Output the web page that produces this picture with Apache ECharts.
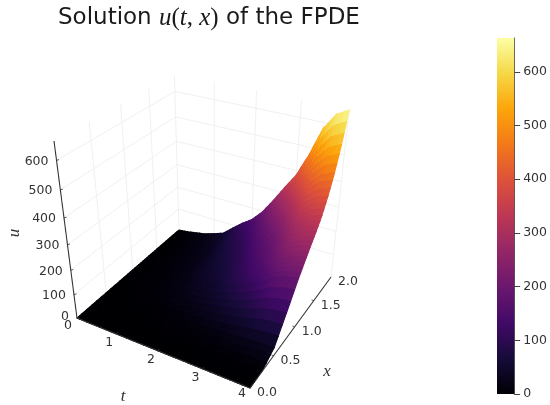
<!DOCTYPE html>
<html><head><meta charset="utf-8">
<script src="https://cdn.jsdelivr.net/npm/echarts@6/dist/echarts.min.js"></script>
<style>html,body{margin:0;padding:0;background:#fff}#c{width:550px;height:405px}</style>
</head><body><div id="c"></div>
<script>
const tValues = [0,0.25,0.5,0.75,1,1.25,1.5,1.75,2,2.25,2.5,2.75,3,3.25,3.5,3.75,4];
const xValues = [0,0.25,0.5,0.75,1,1.125,1.25,1.375,1.5,1.625,1.75,1.875,2];
const uAt0    = [0,0,0,0,0,0,0,0,0,0,0,0,0,0,0,0,0];
const uAt025  = [0,0,0,0,0,0,0,1,1,1,1,1,2,2,3,3,3];
const uAt050  = [0,0,1,1,2,2,4,6,8,10,13,16,19,24,29,32,33];
const uAt075  = [0,1,2,3,6,9,15,21,26,34,44,56,66,82,100,111,115];
const uAt100  = [0,1,4,6,10,15,26,36,45,59,77,97,116,142,174,193,200];
const uAt1125 = [0,1,4,7,12,18,31,43,54,70,92,115,138,169,207,229,238];
const uAt125  = [0,2,5,8,14,20,35,50,63,81,106,133,159,196,240,265,275];
const uAt1375 = [0,2,6,9,16,23,40,56,71,92,120,150,180,221,270,299,310];
const uAt150  = [0,2,6,11,18,26,45,64,80,103,135,170,202,249,305,337,350];
const uAt1625 = [0,2,7,12,21,30,52,73,92,119,156,195,233,287,351,388,403];
const uAt175  = [0,3,9,14,24,35,61,85,107,139,182,228,272,335,409,453,470];
const uAt1875 = [0,3,10,17,29,41,71,101,126,164,214,269,321,395,483,534,554];
const uAt200  = [0,4,12,20,34,49,85,120,150,195,255,320,382,470,575,636,660];
const uRows = [uAt0,uAt025,uAt050,uAt075,uAt100,uAt1125,uAt125,uAt1375,uAt150,uAt1625,uAt175,uAt1875,uAt200];
const tTicks = [0,1,2,3,4];
const xTicks = [0,0.5,1,1.5,2];
const uTicks = [0,100,200,300,400,500,600];
const colorbarTicks = [0,100,200,300,400,500,600];
const uMax = 663;
const inferno = ['#000004','#160b39','#420a68','#6a176e','#932667','#bc3754','#dd513a','#f37819','#fca50a','#f6d746','#fcffa4'];

const TXT='#333333', SANS='"DejaVu Sans"';
function project(t,x,u){
  const a=t/4,b=x/2,c=u/uMax;
  const d=1-0.1213*a+0.2028*b-0.145*c;
  return [(77+142.7*a+138.3*b-30.83*c)/d,(318+22.94*a-41.36*b-197.4*c)/d];
}
const rgb=inferno.map(h=>[1,3,5].map(i=>parseInt(h.substr(i,2),16)));
function colorOf(u){
  const v=Math.max(0,Math.min(1,u/uMax))*10,i=Math.min(9,Math.floor(v)),f=v-i;
  const m=[0,1,2].map(k=>Math.round(rgb[i][k]+(rgb[i+1][k]-rgb[i][k])*f));
  return 'rgb('+m.join(',')+')';
}
function line(p,q,stroke,w){return {type:'line',silent:true,shape:{x1:p[0],y1:p[1],x2:q[0],y2:q[1]},style:{stroke,lineWidth:w}};}
function text(p,s,opt){return Object.assign({type:'text',silent:true,x:p[0],y:p[1],rotation:(opt&&opt.rot)||0,
  style:{x:0,y:0,text:s,fill:TXT,font:(opt&&opt.font)||('12.5px '+SANS),align:(opt&&opt.align)||'center',verticalAlign:'middle'}});}
function plus(p,dx,dy){return [p[0]+dx,p[1]+dy];}

function renderWalls(){
  const ch=[],G='#eeeeee',w=0.9,T=4,X=2;
  uTicks.slice(1).forEach(u=>{
    ch.push(line(project(0,0,u),project(0,X,u),G,w));
    ch.push(line(project(0,X,u),project(T,X,u),G,w));
  });
  xTicks.slice(1).forEach(x=>ch.push(line(project(0,x,0),project(0,x,uMax),G,w)));
  tTicks.slice(1).forEach(t=>ch.push(line(project(t,X,0),project(t,X,uMax),G,w)));
  return {type:'group',children:ch};
}
function renderSurface(){
  const ch=[],n=3;
  for(let j=xValues.length-2;j>=0;j--){
    for(let i=0;i<tValues.length-1;i++){
      const u00=uRows[j][i],u10=uRows[j][i+1],u01=uRows[j+1][i],u11=uRows[j+1][i+1];
      const t0=tValues[i],t1=tValues[i+1],x0=xValues[j],x1=xValues[j+1];
      const V=(p,q)=>(1-p)*(1-q)*u00+p*(1-q)*u10+(1-p)*q*u01+p*q*u11;
      const S=(p,q)=>project(t0+(t1-t0)*p,x0+(x1-x0)*q,V(p,q));
      for(let qi=n-1;qi>=0;qi--)for(let pi=0;pi<n;pi++){
        const p=pi/n,q=qi/n,e=1/n,c=colorOf(V(p+e/2,q+e/2));
        ch.push({type:'polygon',silent:true,shape:{points:[S(p,q),S(p+e,q),S(p+e,q+e),S(p,q+e)]},
          style:{fill:c,stroke:c,lineWidth:1.1}});
      }
    }
  }
  return {type:'group',children:ch};
}
function renderAxes(){
  const ch=[],A='#333333',w=1.1;
  ch.push(line(project(0,0,0),project(0,0,uMax),A,w));
  ch.push(line(project(0,0,0),project(4,0,0),A,w));
  ch.push(line(project(4,0,0),project(4,2,0),A,w));
  uTicks.forEach(u=>{const p=project(0,0,u);ch.push(line(p,plus(p,2.5,-0.8),A,0.8));
    if(u>0)ch.push(text(plus(p,-8,1),String(u),{align:'right'}));else ch.push(text([69,317],'0',{align:'right'}));});
  tTicks.forEach(t=>{const p=project(t,0,0);
    if(t>0&&t<4)ch.push(line(p,plus(p,1.6,-2),A,0.8));
    ch.push(text(t==0?[68,326]:plus(p,t==4?-8:-7,t==4?6:9),String(t)));});
  xTicks.forEach(x=>{const p=project(4,x,0);
    if(x>0&&x<2)ch.push(line(p,plus(p,-2.2,-0.8),A,0.8));
    ch.push(text(plus(p,7,5),x.toFixed(1),{align:'left'}));});
  const M='italic 17px "Liberation Serif"';
  ch.push(text([15,233],'u',{font:M,rot:Math.PI/2}));
  ch.push(text([123,397],'t',{font:M}));
  ch.push(text([327,372],'x',{font:M}));
  return {type:'group',children:ch};
}
const grad=inferno.map((c,i)=>({offset:i/10,color:c}));
const chart=echarts.init(document.getElementById('c'),null,{renderer:'canvas'});
chart.setOption({
  animation:false,backgroundColor:'#ffffff',
  title:{left:58,top:6,padding:0,text:'Solution {i|u}{r|(}{i|t}{r|, }{i|x}{r|)} of the FPDE',
    textStyle:{fontFamily:'DejaVu Sans',fontSize:23,fontWeight:'normal',color:'#1a1a1a',
      rich:{i:{fontFamily:'Liberation Serif',fontStyle:'italic',fontSize:25,color:'#1a1a1a'},
            r:{fontFamily:'Liberation Serif',fontSize:25,color:'#1a1a1a'}}}},
  grid:{left:497,width:20,top:38,height:356},
  xAxis:{type:'category',data:['u'],show:false},
  yAxis:{type:'value',position:'right',min:0,max:uMax,interval:100,splitLine:{show:false},
    axisLine:{show:true,lineStyle:{color:'#555',width:1}},
    axisTick:{show:true,length:6,lineStyle:{color:'#444',width:1},customValues:colorbarTicks},
    axisLabel:{margin:9,fontFamily:'DejaVu Sans',fontSize:12.5,color:TXT,customValues:colorbarTicks}},
  series:[
    {type:'bar',data:[uMax],barWidth:'100%',silent:true,
      itemStyle:{color:{type:'linear',x:0,y:1,x2:0,y2:0,colorStops:grad}}},
    {type:'custom',coordinateSystem:'none',data:[0],silent:true,z:1,renderItem:renderWalls},
    {type:'custom',coordinateSystem:'none',data:[0],silent:true,z:2,renderItem:renderSurface},
    {type:'custom',coordinateSystem:'none',data:[0],silent:true,z:3,renderItem:renderAxes}
  ]
});
</script></body></html>
